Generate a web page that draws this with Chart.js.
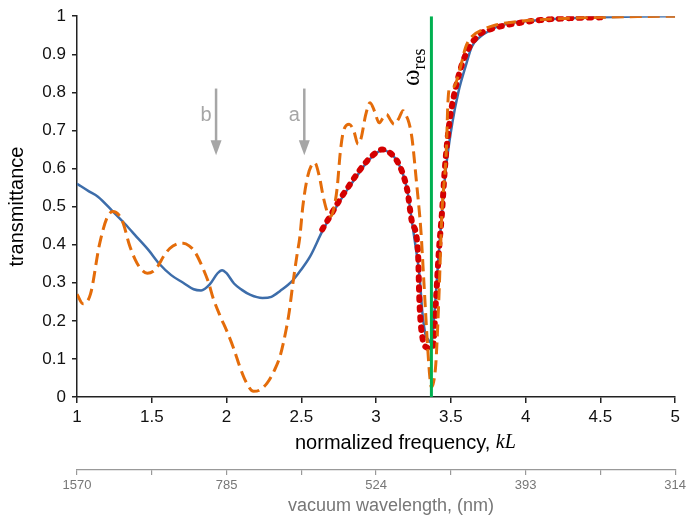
<!DOCTYPE html>
<html>
<head>
<meta charset="utf-8">
<script src="https://cdn.jsdelivr.net/npm/chart.js@4"></script>
<style>
  html, body { margin: 0; padding: 0; background: #fff; }
  #wrap { width: 689px; height: 515px; }
</style>
</head>
<body>
<div id="wrap"><canvas id="myChart" width="689" height="515"></canvas></div>
<script>
// data
var blueX = [1.00, 1.08, 1.14, 1.24, 1.32, 1.40, 1.48, 1.55, 1.63, 1.71, 1.78, 1.83, 1.89, 1.94, 1.97, 2.00, 2.05, 2.10, 2.16, 2.24, 2.30, 2.36, 2.44, 2.50, 2.56, 2.64, 2.72, 2.80, 2.88, 2.94, 3.00, 3.04, 3.09, 3.14, 3.18, 3.21, 3.24, 3.27, 3.29, 3.31, 3.33, 3.35, 3.37, 3.39, 3.42, 3.45, 3.47, 3.51, 3.55, 3.60, 3.64, 3.70, 3.76, 3.82, 3.95, 4.10, 4.30, 4.50, 4.75, 5.00];
var blueY = [0.56, 0.54, 0.526, 0.487, 0.455, 0.42, 0.385, 0.35, 0.32, 0.30, 0.283, 0.28, 0.297, 0.325, 0.333, 0.325, 0.298, 0.282, 0.268, 0.26, 0.263, 0.279, 0.305, 0.335, 0.37, 0.435, 0.49, 0.54, 0.585, 0.617, 0.64, 0.648, 0.642, 0.62, 0.585, 0.54, 0.46, 0.38, 0.32, 0.22, 0.165, 0.15, 0.142, 0.22, 0.38, 0.53, 0.61, 0.72, 0.80, 0.87, 0.92, 0.947, 0.962, 0.974, 0.985, 0.99, 0.995, 0.997, 0.999, 1.0];

var orangeX = [1.00, 1.04, 1.09, 1.15, 1.20, 1.24, 1.28, 1.31, 1.35, 1.39, 1.43, 1.47, 1.51, 1.54, 1.58, 1.62, 1.67, 1.71, 1.75, 1.79, 1.84, 1.88, 1.91, 1.96, 2.00, 2.05, 2.09, 2.13, 2.18, 2.22, 2.27, 2.32, 2.36, 2.40, 2.42, 2.44, 2.47, 2.49, 2.51, 2.54, 2.57, 2.59, 2.62, 2.65, 2.68, 2.70, 2.72, 2.74, 2.76, 2.78, 2.82, 2.85, 2.88, 2.90, 2.93, 2.96, 2.99, 3.02, 3.05, 3.07, 3.10, 3.12, 3.15, 3.18, 3.20, 3.22, 3.24, 3.27, 3.30, 3.32, 3.345, 3.36, 3.37, 3.385, 3.40, 3.42, 3.44, 3.47, 3.48, 3.49, 3.52, 3.56, 3.60, 3.645, 3.71, 3.80, 3.95, 4.10, 4.30, 4.50, 4.75, 5.00];
var orangeY = [0.27, 0.245, 0.27, 0.40, 0.47, 0.487, 0.478, 0.455, 0.40, 0.36, 0.335, 0.325, 0.33, 0.343, 0.37, 0.39, 0.402, 0.404, 0.397, 0.38, 0.34, 0.30, 0.26, 0.21, 0.175, 0.125, 0.078, 0.04, 0.015, 0.018, 0.036, 0.07, 0.11, 0.18, 0.226, 0.287, 0.37, 0.42, 0.50, 0.575, 0.61, 0.615, 0.58, 0.52, 0.48, 0.475, 0.50, 0.55, 0.64, 0.695, 0.716, 0.70, 0.664, 0.68, 0.74, 0.773, 0.75, 0.72, 0.735, 0.742, 0.725, 0.716, 0.73, 0.752, 0.74, 0.72, 0.68, 0.565, 0.435, 0.30, 0.13, 0.05, 0.026, 0.04, 0.09, 0.26, 0.48, 0.65, 0.77, 0.81, 0.815, 0.86, 0.92, 0.948, 0.964, 0.977, 0.986, 0.991, 0.995, 0.997, 0.999, 1.0];

var redX = [2.64, 2.70, 2.76, 2.82, 2.88, 2.94, 3.00, 3.04, 3.09, 3.14, 3.18, 3.21, 3.24, 3.28, 3.29, 3.31, 3.34, 3.36, 3.38, 3.40, 3.42, 3.44, 3.46, 3.49, 3.52, 3.56, 3.60, 3.65, 3.70, 3.76, 3.85, 3.95, 4.10, 4.30, 4.50];
var redY = [0.44, 0.48, 0.52, 0.555, 0.59, 0.62, 0.642, 0.65, 0.642, 0.62, 0.585, 0.54, 0.46, 0.383, 0.25, 0.156, 0.13, 0.128, 0.13, 0.25, 0.383, 0.48, 0.60, 0.72, 0.79, 0.855, 0.90, 0.935, 0.955, 0.965, 0.975, 0.982, 0.99, 0.995, 0.997];

var resonanceX = 3.37;
var arrowB = 1.93;
var arrowA = 2.52;

var freqTicks = [1, 2, 3, 4, 5];
var wavelengthLabels = ['1570', '785', '524', '393', '314'];

function toPoints(xs, ys) {
    return xs.map(function(x, i) { return {x: x, y: ys[i]}; });
}

var sans = "'Liberation Sans', Arial, sans-serif";
var serif = "'Liberation Serif', 'Times New Roman', serif";

// extra drawings: arrows, labels, axis titles
var annotations = {
    id: 'annotations',
    afterDatasetsDraw: function(chart) {
        var c = chart.ctx;
        var xs = chart.scales.x, ys = chart.scales.y;
        c.save();

        // arrows a and b
        [[arrowB, 'b'], [arrowA, 'a']].forEach(function(a) {
            var px = xs.getPixelForValue(a[0]);
            var top = ys.getPixelForValue(0.81);
            var tip = ys.getPixelForValue(0.635);
            c.strokeStyle = '#a6a6a6';
            c.fillStyle = '#a6a6a6';
            c.lineWidth = 2.5;
            c.beginPath();
            c.moveTo(px, top);
            c.lineTo(px, tip - 12);
            c.stroke();
            c.beginPath();
            c.moveTo(px - 5.5, tip - 15);
            c.lineTo(px + 5.5, tip - 15);
            c.lineTo(px, tip);
            c.closePath();
            c.fill();
            c.font = '20px ' + sans;
            c.textAlign = 'center';
            c.textBaseline = 'middle';
            c.fillText(a[1], px - 10, ys.getPixelForValue(0.74));
        });

        // omega_res label, rotated
        var gx = xs.getPixelForValue(resonanceX);
        c.translate(gx - 12, 86);
        c.rotate(-Math.PI / 2);
        c.fillStyle = '#000';
        c.textAlign = 'left';
        c.textBaseline = 'alphabetic';
        c.font = '25px ' + serif;
        c.fillText('ω', 0, 0);
        var w = c.measureText('ω').width;
        c.font = '18px ' + serif;
        c.fillText('res', w, 6);
        c.setTransform(1, 0, 0, 1, 0, 0);

        // x axis title
        c.textBaseline = 'middle';
        c.textAlign = 'left';
        c.fillStyle = '#000';
        c.font = '20px ' + sans;
        var t1 = 'normalized frequency, ';
        var tx = 295;
        c.fillText(t1, tx, 443);
        tx += c.measureText(t1).width;
        c.font = 'italic 20px ' + serif;
        c.fillText('kL', tx, 443);

        // secondary axis title
        c.fillStyle = '#777';
        c.font = '18px ' + sans;
        c.textAlign = 'center';
        c.fillText('vacuum wavelength, (nm)', 391, 506);
        c.restore();
    }
};

var ctx = document.getElementById('myChart').getContext('2d');
var chart = new Chart(ctx, {
    type: 'line',
    data: {
        datasets: [{
            label: 'resonance',
            data: [{x: resonanceX, y: 0}, {x: resonanceX, y: 1}],
            borderColor: '#00b050',
            borderWidth: 3,
            pointRadius: 0
        }, {
            label: 'orange',
            data: toPoints(orangeX, orangeY),
            borderColor: '#e46c0a',
            borderWidth: 3,
            borderDash: [12, 6],
            pointRadius: 0,
            cubicInterpolationMode: 'monotone'
        }, {
            label: 'fit',
            data: toPoints(redX, redY),
            borderColor: '#d40000',
            borderWidth: 6,
            borderDash: [2.5, 7.5],
            borderCapStyle: 'round',
            pointRadius: 0,
            cubicInterpolationMode: 'monotone'
        }, {
            label: 'blue',
            data: toPoints(blueX, blueY),
            borderColor: '#3d6daa',
            borderWidth: 2.5,
            pointRadius: 0,
            cubicInterpolationMode: 'monotone'
        }]
    },
    options: {
        responsive: false,
        animation: false,
        events: [],
        layout: { padding: { top: 13, right: 13, bottom: 0, left: 0 } },
        plugins: { legend: { display: false }, tooltip: { enabled: false } },
        scales: {
            x: {
                type: 'linear',
                position: 'bottom',
                min: 1, max: 5,
                afterFit: function(s) { s.height = 73; },
                grid: { drawOnChartArea: false, tickLength: 6, color: '#222', lineWidth: 1.5 },
                border: { color: '#222', width: 1.5 },
                ticks: {
                    stepSize: 0.5, padding: 4, color: '#111', font: { size: 17, family: sans },
                    callback: function(v) { return String(Number(v.toFixed(1))); }
                }
            },
            x2: {
                type: 'linear',
                position: 'bottom',
                min: 1, max: 5,
                afterFit: function(s) { s.height = 45; },
                grid: { drawOnChartArea: false, tickLength: 5, color: '#999', lineWidth: 1.2 },
                border: { color: '#999', width: 1.2 },
                ticks: {
                    stepSize: 0.5, padding: 3, color: '#777', font: { size: 13, family: sans },
                    callback: function(v) {
                        var i = freqTicks.indexOf(v);
                        return i >= 0 ? wavelengthLabels[i] : '';
                    }
                }
            },
            y: {
                min: 0, max: 1,
                afterFit: function(s) { s.width = 77; },
                grid: { drawOnChartArea: false, tickLength: 5, color: '#222', lineWidth: 1.5 },
                border: { color: '#222', width: 1.5 },
                ticks: {
                    stepSize: 0.1, padding: 6, color: '#111', font: { size: 17, family: sans },
                    callback: function(v) { return String(Number(v.toFixed(1))); }
                },
                title: {
                    display: true, text: 'transmittance', color: '#000',
                    padding: { top: 5, bottom: 0 }, font: { size: 20, family: sans }
                }
            }
        }
    },
    plugins: [annotations]
});
</script>
</body>
</html>
